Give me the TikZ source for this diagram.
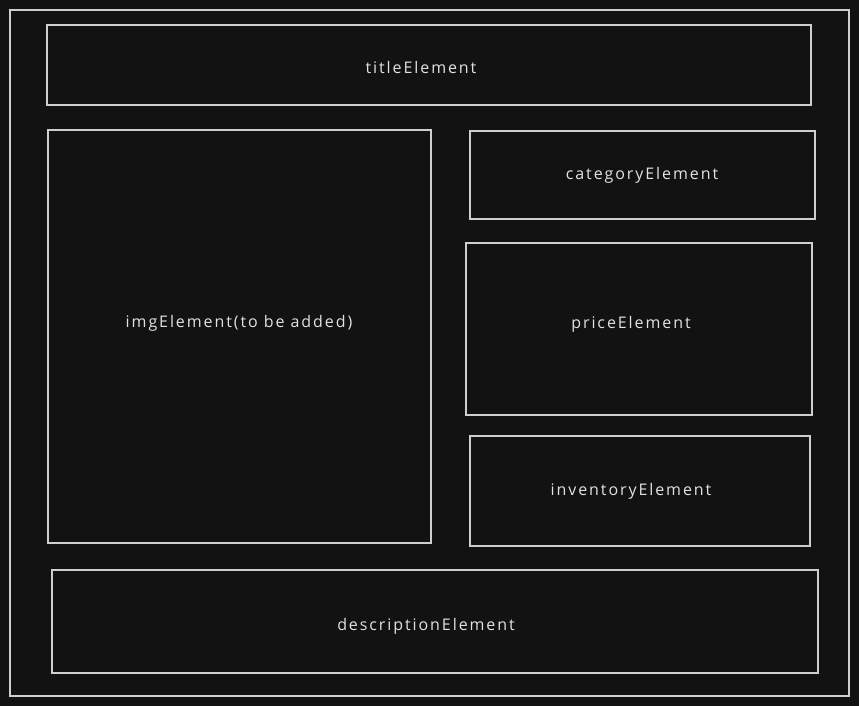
\documentclass[tikz,border=0pt]{standalone}
\usepackage{fontspec}
\setmainfont{Open Sans}[LetterSpace=12]
\begin{document}
\begin{tikzpicture}[x=1pt,y=-1pt,
  box/.style={draw=strokegray,line width=1.1pt},
  lbl/.style={text=textgray,font=\fontsize{16}{18}\selectfont,inner sep=0pt}]
\definecolor{bg}{HTML}{121212}
\definecolor{strokegray}{HTML}{CFCFCF}
\definecolor{textgray}{HTML}{E2E2E2}
\fill[bg] (0,0) rectangle (859,706);
\useasboundingbox (0,0) rectangle (859,706);
\draw[box] (10,10) rectangle (849,696);
\draw[box] (47,25) rectangle (811,105);
\draw[box] (48,130) rectangle (431,543);
\draw[box] (470,131) rectangle (815,219);
\draw[box] (466,243) rectangle (812,415);
\draw[box] (470,436) rectangle (810,546);
\draw[box] (52,570) rectangle (818,673);
\node[lbl] (title) at (421,68) {titleElement};
\node[lbl] (img) at (239,323) {imgElement(to be added)};
\node[lbl] (cat) at (642,175) {categoryElement};
\node[lbl] (price) at (631,324) {priceElement};
\node[lbl] (inv) at (631,491) {inventoryElement};
\node[lbl] (desc) at (426,626) {descriptionElement};
\end{tikzpicture}
\end{document}
